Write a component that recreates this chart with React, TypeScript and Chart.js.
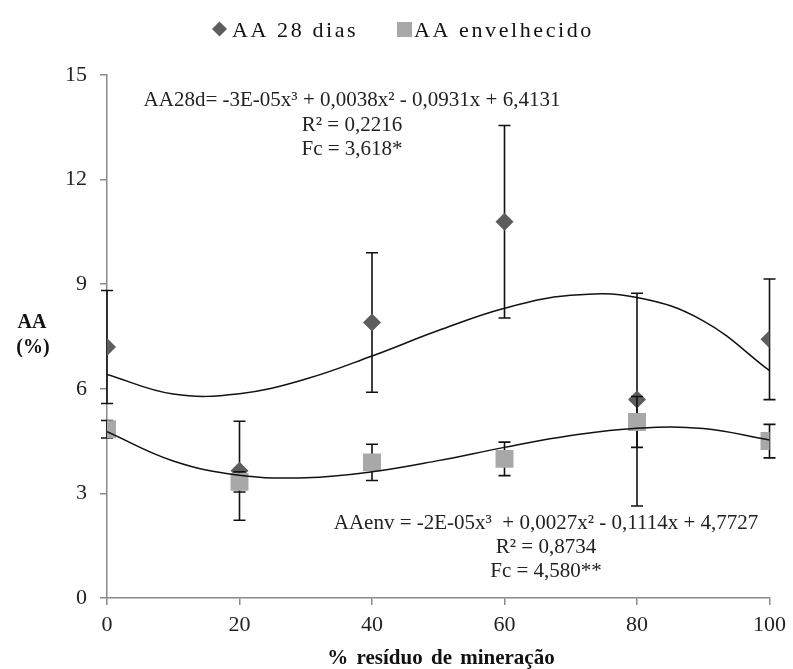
import React, { useEffect, useRef } from "react";
import { Chart, registerables } from "chart.js";

Chart.register(...registerables);

// ---- data ----
const xValues = [0, 20, 40, 60, 80, 100];
const aa28Values = [7.2, 3.65, 7.9, 10.79, 5.69, 7.42];
const aa28Errors = [1.62, 1.42, 2.0, 2.76, 3.05, 1.73];
const aaEnvValues = [4.84, 3.33, 3.89, 3.99, 5.05, 4.5];
const aaEnvErrors = [0.25, 0.29, 0.52, 0.48, 0.73, 0.48];

const trendX = [0, 10, 20, 30, 40, 50, 60, 70, 80, 90, 100];
const aa28Trend = [6.41, 5.85, 5.86, 6.28, 6.94, 7.67, 8.31, 8.68, 8.62, 7.95, 6.52];
const aaEnvTrend = [4.77, 3.93, 3.52, 3.45, 3.62, 3.94, 4.32, 4.66, 4.87, 4.86, 4.53];

const yTicks = [0, 3, 6, 9, 12, 15];
const xTicks = [0, 20, 40, 60, 80, 100];

const seriesLabels = ["AA 28 dias", "AA envelhecido"];
const eq28Lines = ["AA28d= -3E-05x³ + 0,0038x² - 0,0931x + 6,4131", "R² = 0,2216", "Fc = 3,618*"];
const eqEnvLines = ["AAenv = -2E-05x³  + 0,0027x² - 0,1114x + 4,7727", "R² = 0,8734", "Fc = 4,580**"];
const yTitleLines = ["AA", "(%)"];
const xTitle = "% resíduo de mineração";

const SERIF = "'Liberation Serif', 'Times New Roman', serif";
const DIAMOND_COLOR = "#5d5d5d";
const SQUARE_COLOR = "#a8a8a8";
const AXIS_COLOR = "#8a8a8a";

const errorBarPlugin = {
  id: "errorBars",
  beforeDatasetDraw(chart: any, args: any) {
    const ds: any = chart.data.datasets[args.index];
    if (!ds.errors) return;
    const xs = chart.scales.x;
    const ys = chart.scales.y;
    const ctx = chart.ctx;
    ctx.save();
    ctx.strokeStyle = "#111";
    ctx.lineWidth = 1.6;
    ds.data.forEach((p: any, i: number) => {
      const e = ds.errors[i];
      const px = xs.getPixelForValue(p.x);
      const top = ys.getPixelForValue(p.y + e);
      const bot = ys.getPixelForValue(p.y - e);
      ctx.beginPath();
      ctx.moveTo(px, top);
      ctx.lineTo(px, bot);
      ctx.moveTo(px - 6, top);
      ctx.lineTo(px + 6, top);
      ctx.moveTo(px - 6, bot);
      ctx.lineTo(px + 6, bot);
      ctx.stroke();
    });
    ctx.restore();
  },
};

const textPlugin = {
  id: "texts",
  afterDraw(chart: any) {
    const ctx = chart.ctx;
    ctx.save();
    // legend
    ctx.fillStyle = "#111";
    ctx.font = `22px ${SERIF}`;
    ctx.textBaseline = "alphabetic";
    ctx.textAlign = "left";
    (ctx as any).letterSpacing = "2.6px";
    ctx.fillStyle = DIAMOND_COLOR;
    ctx.beginPath();
    ctx.moveTo(212, 29);
    ctx.lineTo(219.5, 21.5);
    ctx.lineTo(227, 29);
    ctx.lineTo(219.5, 36.5);
    ctx.closePath();
    ctx.fill();
    ctx.fillStyle = "#111";
    ctx.fillText(seriesLabels[0], 232, 37);
    ctx.fillStyle = SQUARE_COLOR;
    ctx.fillRect(397, 22, 15, 15);
    ctx.fillStyle = "#111";
    ctx.fillText(seriesLabels[1], 414, 37);
    (ctx as any).letterSpacing = "0px";

    // equations
    ctx.font = `21px ${SERIF}`;
    ctx.textAlign = "center";
    ctx.fillStyle = "#222";
    eq28Lines.forEach((t, i) => ctx.fillText(t, 352, 106 + i * 24.5));
    eqEnvLines.forEach((t, i) => ctx.fillText(t, 546, 529 + i * 24));

    // y title
    ctx.font = `bold 20px ${SERIF}`;
    ctx.fillStyle = "#111";
    ctx.fillText(yTitleLines[0], 32, 328);
    ctx.fillText(yTitleLines[1], 33, 353);

    // x title
    ctx.font = `bold 21px ${SERIF}`;
    (ctx as any).wordSpacing = "3px";
    ctx.fillText(xTitle, 441, 664);
    ctx.restore();
  },
};

export default function App() {
  const ref = useRef<HTMLCanvasElement | null>(null);

  useEffect(() => {
    if (!ref.current) return;
    const chart = new Chart(ref.current, {
      type: "scatter",
      data: {
        datasets: [
          {
            label: "trend28",
            data: trendX.map((x, i) => ({ x, y: aa28Trend[i] })),
            showLine: true,
            borderColor: "#111",
            borderWidth: 1.5,
            pointRadius: 0,
            tension: 0.4,
            order: 0,
          } as any,
          {
            label: "trendEnv",
            data: trendX.map((x, i) => ({ x, y: aaEnvTrend[i] })),
            showLine: true,
            borderColor: "#111",
            borderWidth: 1.5,
            pointRadius: 0,
            tension: 0.4,
            order: 0,
          } as any,
          {
            label: seriesLabels[1],
            data: xValues.map((x, i) => ({ x, y: aaEnvValues[i] })),
            errors: aaEnvErrors,
            pointStyle: "rect",
            pointRadius: 12.7,
            backgroundColor: SQUARE_COLOR,
            borderColor: SQUARE_COLOR,
            borderWidth: 0,
            order: 1,
          } as any,
          {
            label: seriesLabels[0],
            data: xValues.map((x, i) => ({ x, y: aa28Values[i] })),
            errors: aa28Errors,
            pointStyle: "rectRot",
            pointRadius: 9,
            backgroundColor: DIAMOND_COLOR,
            borderColor: DIAMOND_COLOR,
            borderWidth: 0,
            order: 2,
          } as any,
        ],
      },
      options: {
        responsive: false,
        animation: false,
        layout: { padding: { top: 75, right: 18, bottom: 0, left: 0 } },
        plugins: {
          legend: { display: false },
          tooltip: { enabled: false },
        },
        scales: {
          x: {
            type: "linear",
            min: 0,
            max: 100,
            afterBuildTicks: (s: any) => {
              s.ticks = xTicks.map((v) => ({ value: v }));
            },
            afterFit: (s: any) => {
              s.height = 71;
            },
            grid: {
              drawOnChartArea: false,
              drawTicks: true,
              tickLength: 7,
              color: AXIS_COLOR,
              lineWidth: 1.5,
            },
            border: { color: AXIS_COLOR, width: 1.5 },
            ticks: {
              padding: 7,
              color: "#222",
              font: { family: SERIF, size: 22 },
              maxRotation: 0,
            },
          },
          y: {
            type: "linear",
            min: 0,
            max: 15,
            afterBuildTicks: (s: any) => {
              s.ticks = yTicks.map((v) => ({ value: v }));
            },
            afterFit: (s: any) => {
              s.width = 107;
            },
            grid: {
              drawOnChartArea: false,
              drawTicks: true,
              tickLength: 7,
              color: AXIS_COLOR,
              lineWidth: 1.5,
            },
            border: { color: AXIS_COLOR, width: 1.5 },
            ticks: {
              padding: 13,
              color: "#222",
              font: { family: SERIF, size: 22 },
            },
          },
        },
      } as any,
      plugins: [errorBarPlugin, textPlugin],
    });
    return () => chart.destroy();
  }, []);

  return (
    <div style={{ position: "fixed", left: 0, top: 0, width: 793, height: 669, background: "#fff" }}>
      <canvas ref={ref} width={793} height={669} style={{ display: "block" }} />
    </div>
  );
}
